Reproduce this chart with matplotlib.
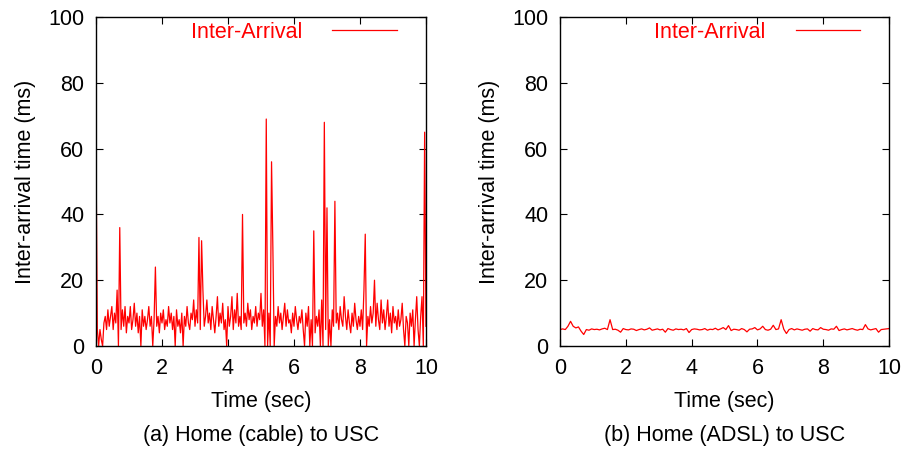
import numpy as np
import matplotlib
matplotlib.use("Agg")
import matplotlib.pyplot as plt

plt.rcParams['font.family'] = ['Liberation Sans', 'DejaVu Sans']

# inter-arrival times (ms), sampled evenly over 0..10 s
cable_ms = [
    60, 5, 0, 5, 2, 0, 7, 9, 5, 11, 6, 9, 12, 5, 10, 7, 17, 0, 36, 5,
    11, 6, 12, 4, 9, 7, 12, 5, 8, 13, 6, 10, 4, 9, 0, 11, 6, 9, 5, 8,
    12, 6, 9, 0, 8, 24, 6, 9, 4, 10, 7, 11, 5, 8, 6, 12, 7, 10, 5, 9,
    0, 11, 6, 8, 4, 10, 0, 9, 6, 12, 7, 5, 10, 8, 14, 6, 11, 7, 33, 5,
    32, 17, 6, 9, 14, 7, 10, 5, 12, 8, 4, 9, 15, 6, 10, 7, 13, 5, 8, 0,
    12, 6, 9, 15, 5, 11, 7, 16, 6, 9, 5, 40, 7, 10, 6, 13, 8, 11, 5, 9,
    7, 12, 6, 10, 8, 16, 6, 11, 0, 69, 0, 10, 0, 56, 30, 0, 9, 6, 12, 7,
    10, 5, 9, 13, 6, 11, 7, 8, 4, 10, 6, 12, 8, 5, 9, 7, 11, 5, 0, 10,
    6, 12, 0, 8, 0, 35, 4, 9, 6, 11, 0, 14, 0, 68, 5, 42, 0, 8, 0, 11,
    6, 44, 7, 10, 5, 12, 8, 6, 15, 9, 5, 11, 7, 4, 10, 6, 13, 8, 5, 9,
    6, 11, 5, 17, 34, 0, 9, 6, 12, 7, 10, 20, 6, 13, 8, 5, 14, 7, 11, 5,
    9, 14, 6, 10, 4, 12, 7, 9, 5, 11, 6, 8, 13, 5, 0, 9, 7, 0, 10, 6,
    11, 0, 8, 15, 5, 0, 9, 15, 0, 65, 6,
]

adsl_ms = [
    5, 5.2, 5, 6, 7.5, 6, 5.5, 5.8, 4.5, 3.5, 5, 4.8, 5.2, 5, 5.1, 4.9,
    5.2, 5.4, 5, 8, 5, 5.1, 4.8, 4.2, 5.3, 5, 4.9, 5.2, 5.1, 4.7, 5, 5.2,
    4.9, 5.1, 5.5, 4.8, 5, 5.2, 4.9, 5.1, 4.2, 5.3, 5, 4.8, 5.2, 5, 5.1,
    4.9, 5.3, 4.1, 5, 5.2, 5.1, 4.9, 5, 5.3, 4.8, 5.1, 5, 5.4, 4.9, 5.2,
    5.6, 5, 6.2, 4.7, 5.1, 5, 4.8, 5.3, 5, 4.3, 5.1, 5.2, 5.6, 4.9, 5.2,
    6, 5, 4.8, 5.1, 6.3, 5, 5.2, 8, 5.1, 3.8, 5, 5.3, 4.9, 5.2, 5, 4.8,
    5.1, 5.2, 4.5, 5.3, 5, 4.9, 5.6, 5.1, 5, 4.8, 5.2, 5.1, 6, 4.7, 5,
    5.2, 4.9, 5.1, 5.3, 5, 4.8, 5.1, 5, 6.5, 5.2, 4.9, 5.1, 5.3, 4.2, 5,
    5.1, 5.2, 5.3,
]

captions = ["(a) Home (cable) to USC", "(b) Home (ADSL) to USC"]

fs = 15.5

fig = plt.figure(figsize=(9.04, 4.5), dpi=100)
ax1 = fig.add_axes([0.1062, 0.2311, 0.365, 0.731])
ax2 = fig.add_axes([0.6195, 0.2311, 0.364, 0.731])

for ax, vals, cap in zip([ax1, ax2], [cable_ms, adsl_ms], captions):
    t = np.linspace(0, 10, len(vals))
    ax.plot(t, vals, color="red", lw=0.9, label="Inter-Arrival")
    ax.set_xlim(0, 10)
    ax.set_ylim(0, 100)
    ax.set_xticks(range(0, 11, 2))
    ax.set_yticks(range(0, 101, 20))
    ax.tick_params(direction="in", top=True, right=True, length=5,
                   labelsize=fs, pad=8.5)
    for s in ax.spines.values():
        s.set_linewidth(1.0)
    ax.set_xlabel("Time (sec)", fontsize=fs, labelpad=9)
    ax.set_ylabel("Inter-arrival time (ms)", fontsize=fs, labelpad=9)
    ax.legend(loc="center right", bbox_to_anchor=(0.912, 0.954), frameon=False,
              markerfirst=False, handlelength=3.0, handletextpad=1.4,
              borderpad=0, borderaxespad=0, labelcolor="red", fontsize=fs)
    pos = ax.get_position()
    fig.text((pos.x0 + pos.x1) / 2, 0.033, cap, ha="center", va="center",
             fontsize=fs)

fig.savefig("out.png", dpi=100)
